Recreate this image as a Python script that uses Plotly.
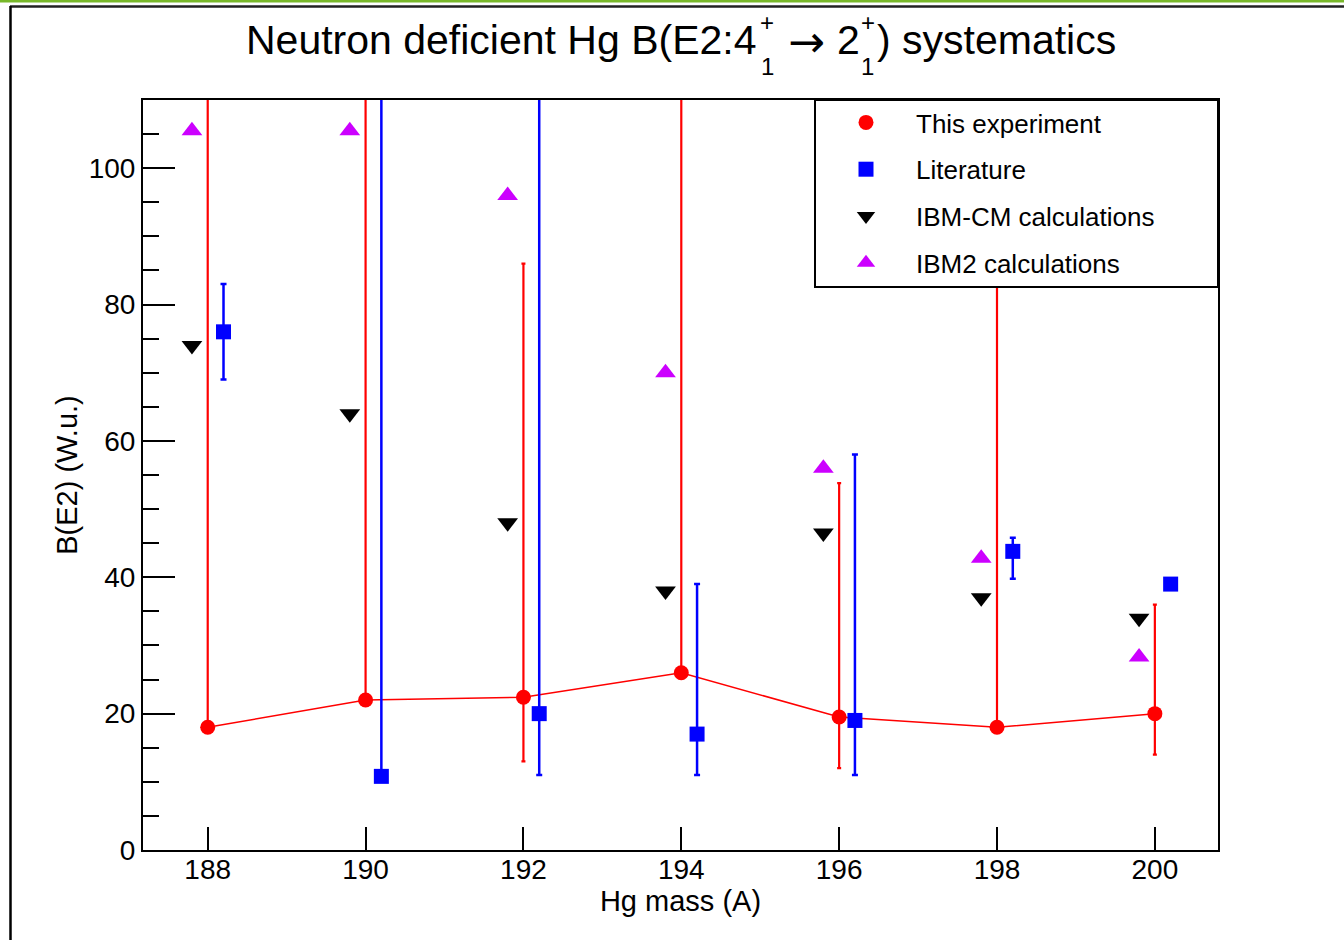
import plotly.graph_objects as go

# ---- data ----
mass = [188, 190, 192, 194, 196, 198, 200]

# This experiment
exp_b = [18.0, 22.0, 22.4, 26.0, 19.5, 18.0, 20.0]
exp_err_up = [150, 150, 63.6, 150, 34.3, 150, 16.0]
exp_err_dn = [0.0, 0.0, 9.4, 0.0, 7.5, 0.0, 6.0]

# Literature
lit_b = [76.0, 10.8, 20.0, 17.0, 19.0, 43.8, 39.0]
lit_err_up = [7.0, 150, 150, 22.0, 39.0, 2.0, 0.0]
lit_err_dn = [7.0, 0.0, 9.0, 6.0, 8.0, 4.0, 0.0]

# Model calculations
ibmcm_b = [74.0, 64.0, 48.0, 38.0, 46.5, 37.0, 34.0]
ibm2_b = [105.5, 105.5, 96.0, 70.0, 56.0, 42.8, 28.3]

# horizontal offsets so the series do not overlap
lit_shift = 0.2
calc_shift = -0.2

# ---- figure geometry (pixels) ----
W, H = 1344, 940
L, R, T, B = 143, 1218, 100, 850


def px(x):
    return (x - L) / (R - L)


def py(y):
    return (B - y) / (B - T)


RED = "#ff0000"
BLUE = "#0000ff"
MAGENTA = "#cc00ff"
FONT = "Liberation Sans, Arial, sans-serif"

fig = go.Figure()

# line joining this experiment's values
fig.add_trace(go.Scatter(
    x=mass, y=exp_b, mode="lines",
    line=dict(color=RED, width=1.5),
    showlegend=False, hoverinfo="skip",
))

fig.add_trace(go.Scatter(
    x=mass, y=exp_b, mode="markers", name="This experiment",
    marker=dict(symbol="circle", size=15, color=RED),
    error_y=dict(type="data", symmetric=False, array=exp_err_up,
                 arrayminus=exp_err_dn, color=RED, thickness=2.2, width=2),
    legendgroup="a",
))

fig.add_trace(go.Scatter(
    x=[m + lit_shift for m in mass], y=lit_b, mode="markers", name="Literature",
    marker=dict(symbol="square", size=15, color=BLUE),
    error_y=dict(type="data", symmetric=False, array=lit_err_up,
                 arrayminus=lit_err_dn, color=BLUE, thickness=2.5, width=3),
    legendgroup="b",
))

fig.add_trace(go.Scatter(
    x=[m + calc_shift for m in mass], y=ibmcm_b, mode="markers",
    name="IBM-CM calculations",
    marker=dict(symbol="triangle-down", size=18, color="black"),
    legendgroup="c",
))

fig.add_trace(go.Scatter(
    x=[m + calc_shift for m in mass], y=ibm2_b, mode="markers",
    name="IBM2 calculations",
    marker=dict(symbol="triangle-up", size=18, color=MAGENTA),
    legendgroup="d",
))

shapes = [
    # page decoration: green rule, dark rule and left frame line
    dict(type="line", xref="paper", yref="paper", x0=px(0), x1=px(W),
         y0=py(1), y1=py(1), line=dict(color="#78b82a", width=3)),
    dict(type="line", xref="paper", yref="paper", x0=px(10), x1=px(W),
         y0=py(6.5), y1=py(6.5), line=dict(color="#222222", width=2.5)),
    dict(type="line", xref="paper", yref="paper", x0=px(10.5), x1=px(10.5),
         y0=py(6), y1=py(H + 5), line=dict(color="black", width=2.5)),
    # legend frame
    dict(type="rect", xref="paper", yref="paper", x0=px(815), x1=px(R),
         y0=py(287), y1=py(T), line=dict(color="black", width=2),
         fillcolor="white", layer="above"),
]

title_font = dict(family=FONT, size=41, color="black")
arrow_font = dict(family="DejaVu Sans", size=44, color="black")
script_font = dict(family=FONT, size=24, color="black")
annotations = [
    dict(text="Neutron deficient Hg B(E2:4", x=px(759), y=py(40),
         xanchor="right", yanchor="middle", font=title_font),
    dict(text="+", x=px(767), y=py(23), xanchor="center", yanchor="middle",
         font=script_font),
    dict(text="1", x=px(767), y=py(66), xanchor="center", yanchor="middle",
         font=script_font),
    dict(text="\u2192", x=px(807), y=py(41), xanchor="center",
         yanchor="middle", font=arrow_font),
    dict(text="2", x=px(848), y=py(40), xanchor="center",
         yanchor="middle", font=title_font),
    dict(text="+", x=px(868), y=py(23), xanchor="center", yanchor="middle",
         font=script_font),
    dict(text="1", x=px(867), y=py(66), xanchor="center", yanchor="middle",
         font=script_font),
    dict(text=") systematics", x=px(875), y=py(40), xanchor="left",
         yanchor="middle", font=title_font),
]
for a in annotations:
    a.update(xref="paper", yref="paper", showarrow=False)

fig.update_layout(
    width=W, height=H,
    margin=dict(l=L, r=W - R, t=T, b=H - B, pad=0),
    paper_bgcolor="white", plot_bgcolor="white",
    font=dict(family=FONT, color="black"),
    showlegend=True,
    legend=dict(
        x=px(816), y=py(T - 1), xanchor="left", yanchor="top",
        bgcolor="rgba(0,0,0,0)", borderwidth=0,
        font=dict(family=FONT, size=26, color="black"),
        itemwidth=90, traceorder="grouped", tracegroupgap=10,
    ),
    shapes=shapes,
    annotations=annotations,
    hovermode=False,
)

fig.update_xaxes(
    range=[187.18, 200.8],
    tickmode="array", tickvals=mass, ticktext=[str(m) for m in mass],
    ticks="inside", ticklen=23, tickwidth=2, tickcolor="black",
    showline=True, linewidth=2, linecolor="black", mirror=True,
    showgrid=False, zeroline=False, ticklabelstandoff=-7,
    tickfont=dict(family=FONT, size=28, color="black"),
    title=dict(text="Hg mass (A)", font=dict(family=FONT, size=29, color="black"),
               standoff=4),
)

fig.update_yaxes(
    range=[0, 110],
    tickmode="linear", tick0=0, dtick=20,
    ticks="inside", ticklen=32, tickwidth=2, tickcolor="black",
    minor=dict(ticks="inside", ticklen=16, tickwidth=2, tickcolor="black",
               dtick=5, tick0=0, showgrid=False),
    showline=True, linewidth=2, linecolor="black", mirror=True,
    showgrid=False, zeroline=False,
    tickfont=dict(family=FONT, size=28, color="black"),
    title=dict(text="B(E2) (W.u.)", font=dict(family=FONT, size=29, color="black"),
               standoff=3),
)

fig.write_html("out.html")
